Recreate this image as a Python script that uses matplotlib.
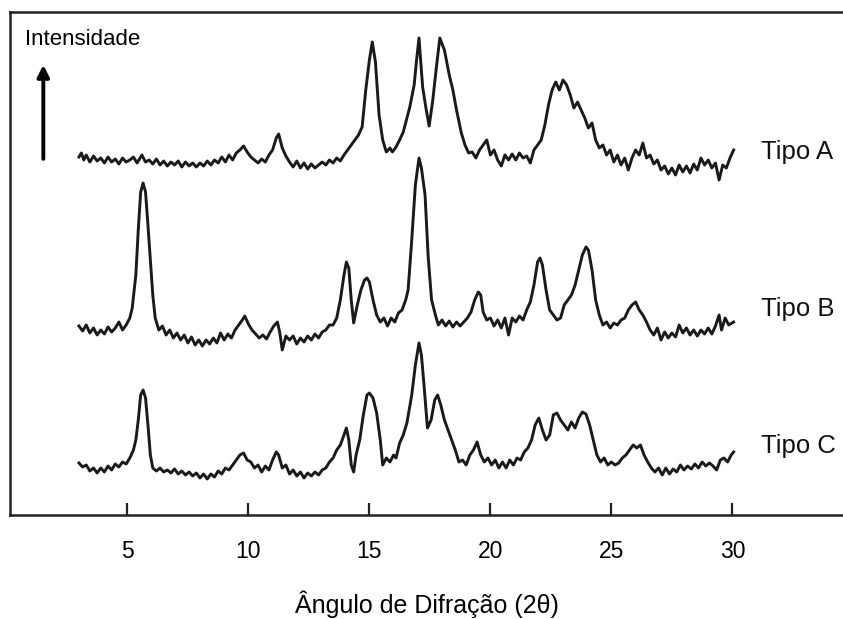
import numpy as np
import matplotlib
matplotlib.use('Agg')
import matplotlib.pyplot as plt

tipo_a_2theta = [3.0, 3.1, 3.2, 3.3, 3.45, 3.6, 3.75, 3.9, 4.05, 4.2, 4.35, 4.5, 4.65, 4.8, 4.95,
                 5.1, 5.25, 5.4, 5.6, 5.75, 5.9, 6.05, 6.2, 6.35, 6.5, 6.65, 6.8, 6.95, 7.1, 7.25,
                 7.4, 7.55, 7.7, 7.85, 8.0, 8.15, 8.3, 8.45, 8.6, 8.75, 8.9, 9.05, 9.2, 9.35, 9.5,
                 9.65, 9.8, 9.95, 10.1, 10.25, 10.4, 10.55, 10.7, 10.85, 11.0, 11.15, 11.25, 11.4,
                 11.55, 11.7, 11.85, 12.0, 12.15, 12.3, 12.45, 12.6, 12.75, 12.9, 13.05, 13.2,
                 13.35, 13.5, 13.65, 13.8, 13.95, 14.1, 14.25, 14.4, 14.55, 14.7, 14.85, 15.0,
                 15.12, 15.25, 15.4, 15.55, 15.7, 15.85, 15.95, 16.1, 16.25, 16.4, 16.55, 16.67,
                 16.85, 16.95, 17.05, 17.2, 17.35, 17.47, 17.62, 17.77, 17.91, 18.1, 18.3, 18.45,
                 18.6, 18.8, 18.95, 19.1, 19.25, 19.4, 19.55, 19.7, 19.85, 20.0, 20.15, 20.3,
                 20.45, 20.6, 20.75, 20.9, 21.05, 21.2, 21.35, 21.5, 21.65, 21.8, 21.95, 22.1,
                 22.25, 22.4, 22.55, 22.7, 22.85, 23.0, 23.15, 23.3, 23.45, 23.6, 23.75, 23.9,
                 24.05, 24.2, 24.35, 24.5, 24.65, 24.8, 24.95, 25.1, 25.25, 25.4, 25.55, 25.7,
                 25.85, 26.0, 26.15, 26.3, 26.45, 26.6, 26.75, 26.9, 27.05, 27.2, 27.35, 27.5,
                 27.65, 27.8, 27.95, 28.1, 28.25, 28.4, 28.55, 28.7, 28.85, 29.0, 29.15, 29.3,
                 29.45, 29.6, 29.75, 29.9, 30.05]
tipo_a_int = [28, 32, 25, 30, 23, 29, 24, 27, 22, 28, 23, 26, 21, 27, 23,
              25, 28, 22, 30, 23, 25, 21, 26, 20, 24, 19, 23, 20, 24, 18,
              23, 19, 22, 18, 22, 19, 24, 20, 25, 22, 28, 23, 30, 25, 32,
              35, 39, 33, 28, 25, 22, 26, 23, 30, 35, 47, 51, 37,
              29, 23, 18, 24, 17, 22, 16, 21, 17, 20, 23, 20,
              25, 22, 27, 24, 30, 35, 40, 45, 50, 58, 95, 125,
              143, 123, 70, 45, 33, 37, 33, 38, 45, 53, 67, 78,
              100, 125, 147, 98, 75, 59, 85, 118, 147, 135, 110, 95,
              75, 52, 40, 32, 33, 27, 35, 40, 45, 30, 35, 25,
              19, 30, 25, 31, 25, 32, 27, 29, 22, 35, 40, 45,
              60, 80, 95, 103, 95, 105, 100, 90, 77, 83, 75, 67,
              57, 62, 45, 37, 40, 30, 35, 23, 30, 20, 27, 15,
              27, 35, 30, 42, 27, 30, 21, 25, 15, 19, 11, 17,
              10, 20, 13, 19, 12, 21, 15, 27, 20, 25, 17, 22,
              5, 20, 17, 27, 35]

tipo_b_2theta = [3.0, 3.15, 3.3, 3.45, 3.6, 3.75, 3.9, 4.05, 4.2, 4.35, 4.5, 4.65, 4.8, 4.95,
                 5.1, 5.2, 5.35, 5.45, 5.55, 5.65, 5.75, 5.85, 5.95, 6.05, 6.15, 6.3, 6.45, 6.6,
                 6.75, 6.9, 7.05, 7.2, 7.35, 7.5, 7.65, 7.8, 7.95, 8.1, 8.25, 8.4, 8.55, 8.7,
                 8.85, 9.0, 9.15, 9.3, 9.45, 9.6, 9.75, 9.85, 10.0, 10.15, 10.3, 10.45, 10.6,
                 10.75, 10.9, 11.05, 11.2, 11.3, 11.4, 11.55, 11.7, 11.85, 12.0, 12.15, 12.3,
                 12.45, 12.6, 12.75, 12.9, 13.05, 13.2, 13.35, 13.5, 13.65, 13.8, 13.95, 14.05,
                 14.15, 14.25, 14.35, 14.5, 14.65, 14.8, 14.9, 15.0, 15.15, 15.3, 15.45, 15.6,
                 15.75, 15.9, 16.05, 16.2, 16.35, 16.5, 16.6, 16.75, 16.9, 17.05, 17.15, 17.3,
                 17.43, 17.57, 17.75, 17.85, 18.0, 18.15, 18.3, 18.45, 18.6, 18.75, 18.9, 19.05,
                 19.2, 19.35, 19.5, 19.6, 19.7, 19.85, 20.0, 20.15, 20.3, 20.45, 20.6, 20.75,
                 20.9, 21.05, 21.2, 21.35, 21.5, 21.65, 21.8, 21.95, 22.05, 22.15, 22.3, 22.45,
                 22.6, 22.75, 22.9, 23.05, 23.2, 23.35, 23.5, 23.65, 23.8, 23.95, 24.05, 24.2,
                 24.35, 24.5, 24.65, 24.8, 24.95, 25.1, 25.25, 25.4, 25.55, 25.7, 25.85, 26.0,
                 26.15, 26.3, 26.45, 26.6, 26.75, 26.9, 27.05, 27.2, 27.35, 27.5, 27.65, 27.8,
                 27.95, 28.1, 28.25, 28.4, 28.55, 28.7, 28.85, 29.0, 29.15, 29.3, 29.45, 29.55,
                 29.7, 29.85, 30.05]
tipo_b_int = [29, 24, 30, 22, 27, 20, 25, 21, 28, 23, 27, 33, 25, 30,
              37, 47, 80, 125, 163, 172, 163, 130, 95, 60, 37, 25, 29, 20,
              25, 17, 22, 15, 20, 12, 18, 10, 15, 9, 15, 11, 17, 12,
              22, 15, 21, 17, 25, 30, 35, 39, 31, 25, 21, 17, 20,
              16, 23, 29, 33, 22, 5, 19, 15, 19, 11, 17, 13,
              19, 15, 21, 17, 23, 25, 30, 30, 37, 55, 80, 93,
              87, 55, 32, 50, 65, 75, 77, 73, 55, 40, 33, 37,
              29, 37, 33, 42, 45, 55, 65, 115, 170, 197, 187, 160,
              98, 55, 38, 30, 35, 29, 34, 28, 33, 29, 33, 37,
              43, 55, 63, 60, 43, 35, 37, 29, 35, 27, 37, 20,
              37, 33, 39, 35, 45, 53, 70, 93, 97, 90, 65, 45,
              40, 35, 37, 50, 55, 60, 70, 85, 100, 108, 105, 85,
              55, 40, 30, 33, 27, 32, 30, 35, 37, 45, 50, 53,
              45, 40, 33, 25, 20, 27, 15, 23, 17, 22, 18, 30,
              22, 27, 20, 25, 19, 25, 21, 27, 21, 29, 40, 25,
              37, 30, 33]

tipo_c_2theta = [3.0, 3.15, 3.3, 3.45, 3.6, 3.75, 3.9, 4.05, 4.2, 4.35, 4.5, 4.65, 4.8, 4.95,
                 5.1, 5.25, 5.35, 5.45, 5.55, 5.65, 5.75, 5.85, 5.95, 6.05, 6.2, 6.35, 6.5, 6.65,
                 6.8, 6.95, 7.1, 7.25, 7.4, 7.55, 7.7, 7.85, 8.0, 8.15, 8.3, 8.45, 8.6, 8.75,
                 8.9, 9.05, 9.2, 9.35, 9.5, 9.65, 9.8, 9.95, 10.1, 10.25, 10.4, 10.55, 10.7,
                 10.85, 11.0, 11.15, 11.25, 11.4, 11.55, 11.7, 11.85, 12.0, 12.15, 12.3, 12.45,
                 12.6, 12.75, 12.9, 13.05, 13.2, 13.35, 13.5, 13.65, 13.8, 13.95, 14.05, 14.15,
                 14.25, 14.35, 14.45, 14.6, 14.75, 14.9, 15.0, 15.15, 15.3, 15.45, 15.55, 15.7,
                 15.85, 16.0, 16.1, 16.25, 16.4, 16.55, 16.75, 16.9, 17.05, 17.15, 17.25, 17.4,
                 17.55, 17.7, 17.82, 17.95, 18.1, 18.25, 18.4, 18.55, 18.7, 18.85, 19.0, 19.15,
                 19.3, 19.45, 19.6, 19.75, 19.9, 20.05, 20.2, 20.35, 20.5, 20.65, 20.8, 20.95,
                 21.1, 21.25, 21.4, 21.55, 21.7, 21.85, 22.0, 22.15, 22.3, 22.45, 22.6, 22.75,
                 22.9, 23.05, 23.2, 23.35, 23.5, 23.65, 23.8, 23.95, 24.1, 24.25, 24.4, 24.55,
                 24.7, 24.85, 25.0, 25.15, 25.3, 25.45, 25.6, 25.75, 25.9, 26.05, 26.2, 26.35,
                 26.5, 26.65, 26.8, 26.95, 27.1, 27.25, 27.4, 27.55, 27.7, 27.85, 28.0, 28.15,
                 28.3, 28.45, 28.6, 28.75, 28.9, 29.05, 29.2, 29.35, 29.5, 29.65, 29.8, 29.95,
                 30.05]
tipo_c_int = [22, 18, 20, 14, 17, 12, 17, 13, 19, 15, 21, 18, 23, 21,
              27, 35, 45, 65, 90, 95, 87, 60, 30, 17, 14, 17, 13, 15,
              12, 16, 11, 14, 10, 13, 9, 12, 7, 11, 6, 11, 8, 14,
              11, 17, 15, 20, 25, 30, 32, 25, 23, 17, 20, 13, 19,
              15, 25, 33, 30, 17, 20, 11, 15, 9, 13, 7, 12,
              9, 13, 10, 15, 17, 23, 27, 35, 40, 50, 57, 45,
              20, 13, 30, 45, 70, 90, 92, 87, 72, 45, 20, 27,
              23, 30, 27, 42, 50, 62, 90, 120, 142, 130, 102, 57,
              65, 85, 90, 80, 65, 55, 45, 35, 23, 25, 20, 30,
              35, 43, 30, 23, 27, 20, 25, 17, 23, 17, 25, 20,
              27, 25, 33, 37, 45, 60, 67, 55, 45, 50, 70, 72,
              65, 60, 55, 63, 57, 67, 73, 71, 60, 45, 30, 23,
              27, 20, 23, 20, 22, 27, 30, 35, 40, 37, 40, 30,
              23, 17, 13, 17, 10, 17, 11, 16, 13, 20, 15, 19,
              16, 21, 17, 23, 19, 22, 19, 15, 25, 27, 23, 30,
              33]

tipos = ['Tipo A', 'Tipo B', 'Tipo C']
deslocamentos = [330, 160, 30]   # deslocamento vertical de cada curva
pos_rotulo = [33, 46, 39]        # altura do rótulo acima do deslocamento

plt.rcParams['font.family'] = ['Liberation Sans', 'DejaVu Sans']

fig = plt.figure(figsize=(8.43, 6.19), dpi=100)
ax = fig.add_axes([10 / 843, 104 / 619, 833 / 843, 503 / 619])

curvas = [(tipo_a_2theta, tipo_a_int), (tipo_b_2theta, tipo_b_int), (tipo_c_2theta, tipo_c_int)]
for (x, y), off, nome, lab in zip(curvas, deslocamentos, tipos, pos_rotulo):
    y = np.array(y) + off
    ax.plot(x, y, color='#1a1a1a', linewidth=2.1, solid_joinstyle='round')
    ax.text(31.2, off + lab, nome, fontsize=18.5, va='center', ha='left', color='#111111')

ax.set_xlim(0.15, 34.57)
ax.set_ylim(0, 503)
ax.set_xticks([5, 10, 15, 20, 25, 30])
ax.set_yticks([])
ax.tick_params(axis='x', direction='in', length=9, width=1.6, pad=18, labelsize=16.5,
               color='#222222')
ax.spines['right'].set_visible(False)
for s in ['left', 'top', 'bottom']:
    ax.spines[s].set_linewidth(1.8)
    ax.spines[s].set_color('#222222')

ax.set_xlabel('Ângulo de Difração (2θ)', fontsize=18, labelpad=20)

ax.text(0.018, 0.945, 'Intensidade', transform=ax.transAxes, fontsize=16, va='center', ha='left')
ax.annotate('', xy=(0.040, 0.895), xytext=(0.040, 0.708), xycoords='axes fraction',
            arrowprops=dict(arrowstyle='-|>,head_width=0.35,head_length=0.7', lw=2.8,
                            color='black', shrinkA=0, shrinkB=0))

fig.savefig('out.png', dpi=100)
